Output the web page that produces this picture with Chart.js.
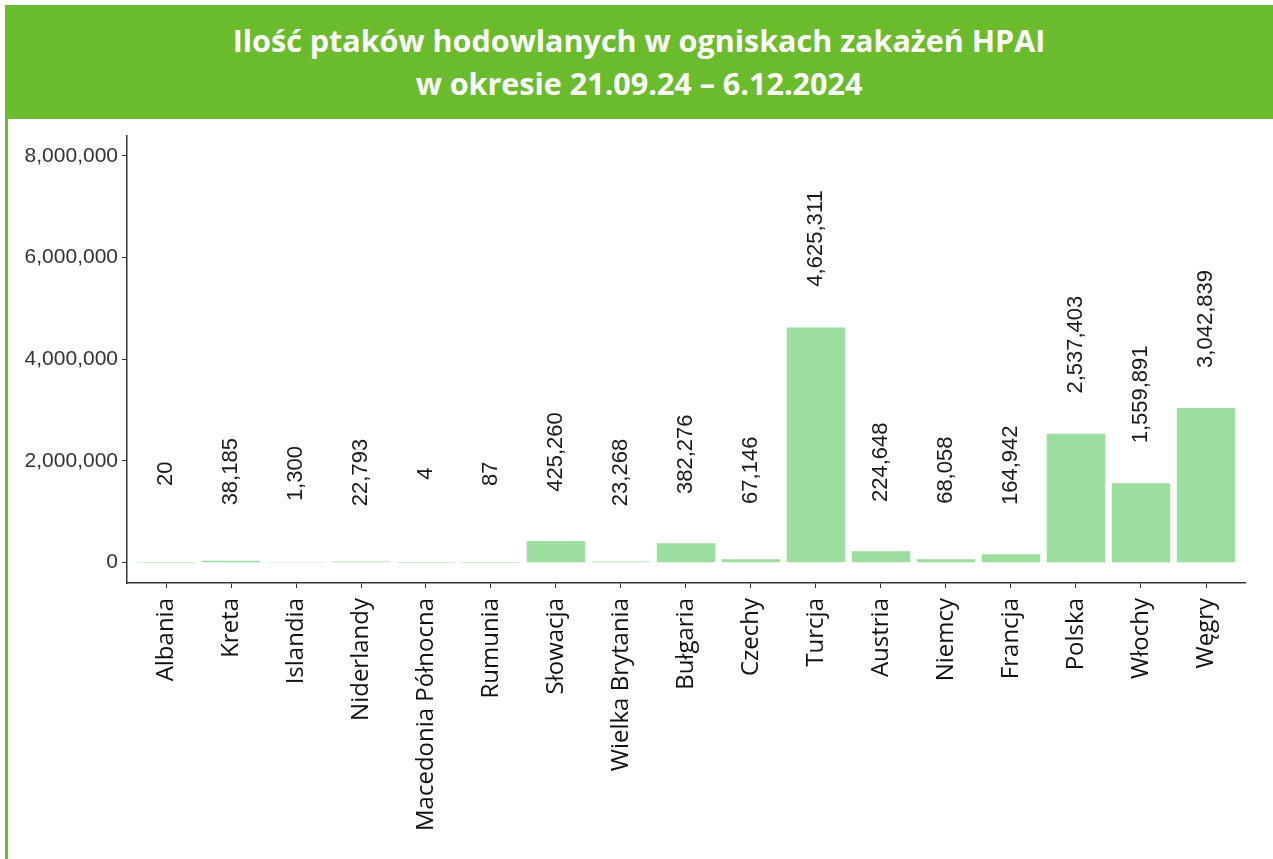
<!DOCTYPE html>
<html>
<head>
<meta charset="utf-8">
<script src="https://cdn.jsdelivr.net/npm/chart.js@4.4.1/dist/chart.umd.min.js"></script>
<style>
  body { margin: 0; background: #fff; width: 1273px; height: 859px; overflow: hidden; position: relative; }
  #header {
    position: absolute; left: 5px; top: 5px; width: 1268px; height: 114px;
    background: #6abc2d; color: #fff; text-align: center;
    font-family: "Open Sans", sans-serif; font-weight: bold; font-size: 30.5px; line-height: 43px;
    padding-top: 14px; box-sizing: border-box;
  }
  #leftLine { position: absolute; left: 5px; top: 119px; width: 3px; height: 740px; background: #6abc2d; }
  #chart { position: absolute; left: 8px; top: 119px; }
</style>
</head>
<body>
<div id="header">Ilość ptaków hodowlanych w ogniskach zakażeń HPAI<br>w okresie 21.09.24 – 6.12.2024</div>
<div id="leftLine"></div>
<canvas id="chart" width="1265" height="740"></canvas>
<script>
// countries and number of birds in HPAI outbreaks
const categories = ['Albania', 'Kreta', 'Islandia', 'Niderlandy', 'Macedonia Północna', 'Rumunia',
  'Słowacja', 'Wielka Brytania', 'Bułgaria', 'Czechy', 'Turcja', 'Austria', 'Niemcy', 'Francja',
  'Polska', 'Włochy', 'Węgry'];
const birds = [20, 38185, 1300, 22793, 4, 87, 425260, 23268, 382276, 67146, 4625311, 224648,
  68058, 164942, 2537403, 1559891, 3042839];
const yTicks = [0, 2000000, 4000000, 6000000, 8000000];

const fmt = v => v.toLocaleString('en-US');

// value labels, rotated, drawn above each bar
const valueLabels = {
  id: 'valueLabels',
  afterDatasetsDraw(chart) {
    const { ctx, scales: { x, y } } = chart;
    ctx.save();
    ctx.font = '22px "Liberation Sans", Arial, sans-serif';
    ctx.fillStyle = '#1a1a1a';
    ctx.textAlign = 'center';
    ctx.textBaseline = 'middle';
    birds.forEach((v, i) => {
      ctx.save();
      ctx.translate(x.getPixelForValue(i), y.getPixelForValue(v) - 89);
      ctx.rotate(-Math.PI / 2);
      ctx.fillText(fmt(v), 0, 0);
      ctx.restore();
    });
    ctx.restore();
  }
};

const ctx = document.getElementById('chart').getContext('2d');
new Chart(ctx, {
  type: 'bar',
  data: {
    datasets: [{
      data: birds.map((v, i) => ({ x: i, y: v })),
      backgroundColor: 'rgb(155, 222, 160)',
      barPercentage: 0.9,
      categoryPercentage: 1.0
    }]
  },
  options: {
    responsive: false,
    devicePixelRatio: 1,
    animation: false,
    layout: { padding: { top: 14, right: 28, left: 0, bottom: 0 } },
    plugins: { legend: { display: false }, tooltip: { enabled: false } },
    scales: {
      x: {
        type: 'linear',
        offset: false,
        min: -0.6,
        max: categories.length - 0.4,
        afterBuildTicks: s => { s.ticks = categories.map((c, i) => ({ value: i })); },
        afterFit: s => { s.height = 276; },
        border: { display: true, color: '#333', width: 1.5 },
        grid: { display: true, offset: false, drawOnChartArea: false, drawTicks: true, tickLength: 5, color: '#333' },
        ticks: {
          autoSkip: false, maxRotation: 90, minRotation: 90, padding: 10,
          color: '#111',
          font: { family: '"Open Sans", sans-serif', size: 24 },
          callback: v => categories[v]
        }
      },
      y: {
        min: -400000,
        max: 8400000,
        afterBuildTicks: s => { s.ticks = yTicks.map(v => ({ value: v })); },
        afterFit: s => { s.width = 119; },
        border: { display: true, color: '#333', width: 1.5 },
        grid: { display: true, drawOnChartArea: false, drawTicks: true, tickLength: 5, color: '#333' },
        ticks: {
          padding: 4,
          color: '#333',
          font: { family: '"Liberation Sans", Arial, sans-serif', size: 21 },
          callback: v => fmt(v)
        }
      }
    }
  },
  plugins: [valueLabels]
});
</script>
</body>
</html>
